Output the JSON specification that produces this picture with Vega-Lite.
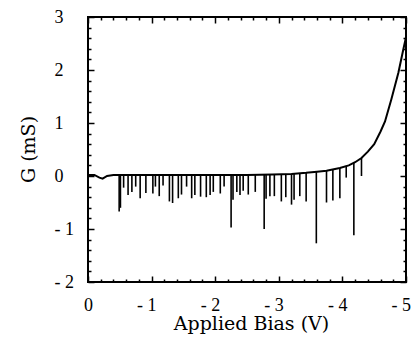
{
  "$schema": "https://vega.github.io/schema/vega-lite/v6.json",
  "width": 318,
  "height": 265,
  "autosize": {"type": "none"},
  "padding": {"left": 88, "top": 17, "right": 11, "bottom": 67},
  "background": "white",
  "config": {
    "view": {"stroke": "black", "strokeWidth": 2},
    "axis": {
      "domain": false,
      "grid": false,
      "tickColor": "black",
      "tickWidth": 1.5,
      "labelFont": "Liberation Serif",
      "labelFontSize": 18,
      "labelColor": "black",
      "labelFlush": false,
      "labelOverlap": false,
      "titleFont": "DejaVu Serif",
      "titleFontWeight": "normal",
      "titleColor": "black",
      "titleFontSize": 19
    }
  },
  "datasets": {
    "curve": [
      {"bias": 0, "g": 0.02},
      {"bias": -0.1, "g": 0.02},
      {"bias": -0.18, "g": -0.03},
      {"bias": -0.23, "g": -0.05},
      {"bias": -0.3, "g": 0.0},
      {"bias": -0.4, "g": 0.02},
      {"bias": -0.5, "g": 0.02},
      {"bias": -1.0, "g": 0.02},
      {"bias": -1.5, "g": 0.02},
      {"bias": -2.0, "g": 0.02},
      {"bias": -2.5, "g": 0.02},
      {"bias": -2.9, "g": 0.03},
      {"bias": -3.2, "g": 0.04},
      {"bias": -3.43, "g": 0.06},
      {"bias": -3.6, "g": 0.08},
      {"bias": -3.75, "g": 0.1},
      {"bias": -3.96, "g": 0.15},
      {"bias": -4.1, "g": 0.2},
      {"bias": -4.2, "g": 0.26},
      {"bias": -4.3, "g": 0.34},
      {"bias": -4.4, "g": 0.46},
      {"bias": -4.5, "g": 0.6},
      {"bias": -4.6, "g": 0.84},
      {"bias": -4.67, "g": 1.03},
      {"bias": -4.77, "g": 1.45},
      {"bias": -4.88, "g": 1.95},
      {"bias": -4.96, "g": 2.4},
      {"bias": -5.0, "g": 2.62}
    ],
    "spikes": [
      {"bias": -0.49, "top": 0.02, "bottom": -0.67},
      {"bias": -0.51, "top": 0.02, "bottom": -0.6},
      {"bias": -0.56, "top": 0.02, "bottom": -0.22},
      {"bias": -0.63, "top": 0.02, "bottom": -0.36},
      {"bias": -0.69, "top": 0.02, "bottom": -0.3},
      {"bias": -0.75, "top": 0.02, "bottom": -0.2},
      {"bias": -0.82, "top": 0.02, "bottom": -0.42},
      {"bias": -0.91, "top": 0.02, "bottom": -0.32},
      {"bias": -1.02, "top": 0.02, "bottom": -0.33},
      {"bias": -1.06, "top": 0.02, "bottom": -0.2},
      {"bias": -1.12, "top": 0.02, "bottom": -0.38},
      {"bias": -1.18, "top": 0.02, "bottom": -0.18},
      {"bias": -1.28, "top": 0.02, "bottom": -0.48},
      {"bias": -1.33, "top": 0.02, "bottom": -0.51},
      {"bias": -1.42, "top": 0.02, "bottom": -0.42},
      {"bias": -1.47, "top": 0.02, "bottom": -0.35},
      {"bias": -1.55, "top": 0.02, "bottom": -0.2},
      {"bias": -1.63, "top": 0.02, "bottom": -0.42},
      {"bias": -1.68, "top": 0.02, "bottom": -0.36},
      {"bias": -1.77, "top": 0.02, "bottom": -0.39},
      {"bias": -1.86, "top": 0.02, "bottom": -0.4},
      {"bias": -1.92, "top": 0.02, "bottom": -0.36},
      {"bias": -1.97, "top": 0.02, "bottom": -0.3},
      {"bias": -2.08, "top": 0.02, "bottom": -0.33},
      {"bias": -2.14, "top": 0.02, "bottom": -0.2},
      {"bias": -2.25, "top": 0.02, "bottom": -0.97},
      {"bias": -2.28, "top": 0.02, "bottom": -0.45},
      {"bias": -2.34, "top": 0.02, "bottom": -0.3},
      {"bias": -2.39, "top": 0.02, "bottom": -0.36},
      {"bias": -2.44, "top": 0.02, "bottom": -0.28},
      {"bias": -2.52, "top": 0.02, "bottom": -0.35},
      {"bias": -2.63, "top": 0.02, "bottom": -0.3},
      {"bias": -2.77, "top": 0.03, "bottom": -1.0},
      {"bias": -2.8, "top": 0.03, "bottom": -0.43},
      {"bias": -2.86, "top": 0.03, "bottom": -0.38},
      {"bias": -2.93, "top": 0.03, "bottom": -0.38},
      {"bias": -3.04, "top": 0.03, "bottom": -0.48},
      {"bias": -3.11, "top": 0.04, "bottom": -0.4},
      {"bias": -3.2, "top": 0.04, "bottom": -0.54},
      {"bias": -3.24, "top": 0.04, "bottom": -0.45},
      {"bias": -3.33, "top": 0.05, "bottom": -0.38},
      {"bias": -3.43, "top": 0.06, "bottom": -0.48},
      {"bias": -3.59, "top": 0.08, "bottom": -1.27},
      {"bias": -3.75, "top": 0.1, "bottom": -0.5},
      {"bias": -3.85, "top": 0.12, "bottom": -0.46},
      {"bias": -3.96, "top": 0.15, "bottom": -0.42},
      {"bias": -4.06, "top": 0.19, "bottom": -0.03},
      {"bias": -4.18, "top": 0.25, "bottom": -1.12},
      {"bias": -4.3, "top": 0.34, "bottom": 0.0}
    ]
  },
  "resolve": {"axis": {"x": "independent", "y": "independent"}},
  "layer": [
    {
      "data": {"name": "curve"},
      "mark": {"type": "line", "color": "black", "strokeWidth": 2},
      "encoding": {
        "x": {
          "field": "bias", "type": "quantitative",
          "scale": {"domain": [0, -5], "nice": false},
          "axis": {
            "orient": "bottom",
            "values": [0, -1, -2, -3, -4, -5],
            "tickSize": -6,
            "labelPadding": 20,
            "labelAlign": "right",
            "labelOffset": 4.5,
            "labelExpr": "datum.value < 0 ? '- ' + abs(datum.value) : '0'",
            "title": "Applied  Bias  (V)",
            "titleX": 163,
            "titleY": 32,
            "titleAlign": "center",
            "titleBaseline": "top"
          }
        },
        "y": {
          "field": "g", "type": "quantitative",
          "scale": {"domain": [-2, 3], "nice": false},
          "axis": {
            "orient": "left",
            "values": [-2, -1, 0, 1, 2, 3],
            "tickSize": -6,
            "labelPadding": 40,
            "labelAlign": "left",
            "labelBaseline": "middle",
            "labelExpr": "datum.value < 0 ? '- ' + abs(datum.value) : '' + datum.value",
            "title": "G (mS)",
            "titleX": -60,
            "titleY": 132,
            "titleAngle": -90,
            "titleAlign": "center",
            "titleBaseline": "middle"
          }
        }
      }
    },
    {
      "data": {"name": "spikes"},
      "mark": {"type": "rule", "color": "black", "strokeWidth": 1.6},
      "encoding": {
        "x": {
          "field": "bias", "type": "quantitative",
          "scale": {"domain": [0, -5], "nice": false},
          "axis": {"orient": "top", "values": [0, -1, -2, -3, -4, -5], "tickSize": -6, "labels": false, "title": null}
        },
        "y": {
          "field": "top", "type": "quantitative",
          "scale": {"domain": [-2, 3], "nice": false},
          "axis": {"orient": "right", "values": [-2, -1, 0, 1, 2, 3], "tickSize": -6, "labels": false, "title": null}
        },
        "y2": {"field": "bottom"}
      }
    },
    {
      "data": {"name": "curve"},
      "mark": {"type": "point", "opacity": 0},
      "encoding": {
        "x": {
          "field": "bias", "type": "quantitative",
          "scale": {"domain": [0, -5], "nice": false},
          "axis": {"orient": "bottom", "values": [-0.2, -0.4, -0.6, -0.8, -1.2, -1.4, -1.6, -1.8, -2.2, -2.4, -2.6, -2.8, -3.2, -3.4, -3.6, -3.8, -4.2, -4.4, -4.6, -4.8], "tickSize": -3, "labels": false, "title": null}
        },
        "y": {
          "field": "g", "type": "quantitative",
          "scale": {"domain": [-2, 3], "nice": false},
          "axis": {"orient": "left", "values": [-1.8, -1.6, -1.4, -1.2, -0.8, -0.6, -0.4, -0.2, 0.2, 0.4, 0.6, 0.8, 1.2, 1.4, 1.6, 1.8, 2.2, 2.4, 2.6, 2.8], "tickSize": -3, "labels": false, "title": null}
        }
      }
    },
    {
      "data": {"name": "curve"},
      "mark": {"type": "point", "opacity": 0},
      "encoding": {
        "x": {
          "field": "bias", "type": "quantitative",
          "scale": {"domain": [0, -5], "nice": false},
          "axis": {"orient": "top", "values": [-0.2, -0.4, -0.6, -0.8, -1.2, -1.4, -1.6, -1.8, -2.2, -2.4, -2.6, -2.8, -3.2, -3.4, -3.6, -3.8, -4.2, -4.4, -4.6, -4.8], "tickSize": -3, "labels": false, "title": null}
        },
        "y": {
          "field": "g", "type": "quantitative",
          "scale": {"domain": [-2, 3], "nice": false},
          "axis": {"orient": "right", "values": [-1.8, -1.6, -1.4, -1.2, -0.8, -0.6, -0.4, -0.2, 0.2, 0.4, 0.6, 0.8, 1.2, 1.4, 1.6, 1.8, 2.2, 2.4, 2.6, 2.8], "tickSize": -3, "labels": false, "title": null}
        }
      }
    }
  ]
}
